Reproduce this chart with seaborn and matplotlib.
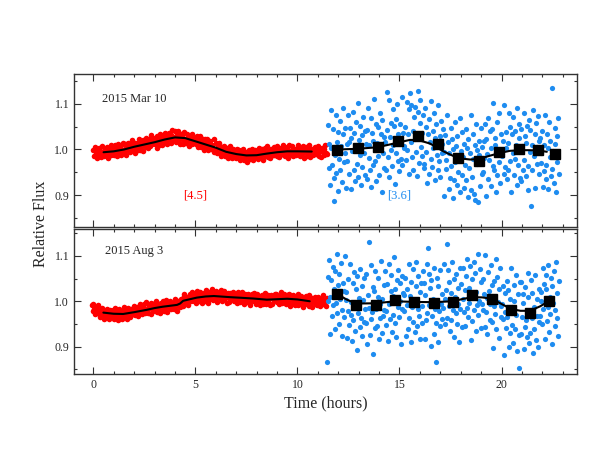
import numpy as np
import pandas as pd
import seaborn as sns
import matplotlib.pyplot as plt
from matplotlib.ticker import MultipleLocator, FormatStrFormatter

# all fluxes below are (relative flux - 1) in parts per thousand
# observations are at an even cadence, so only the time span is kept (hours)
mar_red_span = (0.0, 11.43)
mar_blue_span = (11.5, 22.8)
aug_red_span = (-0.08, 11.43)
aug_blue_span = (11.45, 22.8)

# 2015 Mar 10, [4.5]
mar_red = [
    -1, -14, 5, -9, -6, -19, 0, 4, -11, -4, -16, 8, -8, -3, -15, 1, -11, 5, -5, -18, 0, -8, 9, -13, -3, -7,
    3, -13, 9, -4, -15, 4, 13, -6, 2, -11, 9, -2, 14, -6, 2, 12, -11, 6, -2, 15, 2, -6, 11, 21, -1, 7,
    0, 15, -7, 9, 15, -1, 8, 22, -1, 14, 7, 21, -3, 13, 18, 6, 26, 11, 3, 22, 18, 7, 31, 11, 16, 26,
    24, 11, 20, 4, 29, 19, 9, 33, 25, 18, 10, 32, 24, 14, 37, 18, 30, 11, 27, 36, 23, 15, 31, 42, 20, 27,
    24, 40, 17, 32, 41, 20, 28, 13, 35, 23, 31, 13, 38, 19, 23, 15, 34, 25, 8, 30, 18, 26, 11, 33, 14, 22,
    26, 11, 21, 29, 5, 20, 12, 30, 5, 15, 22, 11, -1, 22, 17, 5, 24, -1, 11, 7, 18, 0, 10, 1, 22, -5,
    -1, 14, 2, -8, 7, 15, -7, 2, -14, 5, -2, -7, 8, -14, -1, 3, -18, -1, -9, 7, -13, -8, -19, 2, -11, -17,
    -4, -18, 1, -13, -11, -1, -24, -6, -17, -10, 2, -23, -10, -19, -5, -27, -13, -2, -15, -21, -7, 1, -23, -9, -17, -1,
    -16, -3, -11, -21, 3, -7, -17, -7, 1, -23, -3, -11, 3, -14, -7, 7, -17, -4, -8, -19, 0, -4, -11, 5, -13, 0,
    -1, -14, 7, -6, -17, 2, -4, 4, -9, 10, -12, -2, -15, 1, 6, -7, -18, 9, -4, -10, -1, 7, -14, -6, 2, -9,
    -12, 1, 9, -7, -4, -15, 4, -10, -2, 7, -18, -1, -6, 6, -14, 2, -9, 10, -17, -4, 1, -12, -2, -7, 6, -10,
    2, -9, 7, -14, -4, -1, -17, 4, -6, 1, -12, 9, -7, -10,
]

# 2015 Mar 10, [3.6]
mar_blue = [
    54, -40, 13, -77, 86, 4, -33, 46, -62, -114, -12, 76, -52, 17, -90, 39, -21, 63, -46, 8, -71, 33, 91, -27, -8, 48, -85, 11,
    -25, 76, -53, 16, 47, -87, 26, -3, 83, -45, 37, -70, 7, 61, -32, 103, -60, 21, -12, 52, -77, 31, -38, 72, -7, 41, -56, 11,
    43, -64, 90, -18, 10, -45, 70, -83, 36, 19, -35, 111, -26, 55, -70, 14, 50, -14, -55, 80, 1, 33, -93, 65, -8, 28, -40, 16,
    -45, 43, 126, -17, 108, -60, 28, 59, -2, -37, 89, 10, 51, -76, 68, -7, 99, -26, 33, -47, 56, 21, -20, 116, -35, 37, 3, 8,
    49, -24, 104, -1, 35, 89, -54, 125, 16, 98, -16, 40, -44, 72, 24, 94, -6, -59, 82, 129, -29, 59, 109, 6, -14, 37, 75, -40,
    -32, 90, -6, 50, -73, 33, 68, -53, 17, -21, 107, -38, 40, 4, 81, -66, 25, 56, -13, -44, 97, -26, 30, -61, 62, 13, -8, 46,
    -5, -101, 32, -24, -43, 75, 17, -87, -8, -62, 47, -37, 23, -106, 1, -68, 60, -28, 7, -78, 30, -49, -12, 70, -93, -3, -56, 38,
    -17, -84, 13, -35, 44, -66, 3, -105, 24, -40, -7, -88, 75, -60, 33, -21, -98, 9, -110, 55, -31, -2, -115, 19, -12, -81, 48, -53,
    6, -50, 18, -18, 55, -103, 23, -9, 70, -65, -24, 40, 4, -80, 45, -36, 101, -45, 9, 26, -93, 60, -55, 0, -28, 80, -74, 33,
    -10, -15, 19, -53, 98, -38, 3, 38, -65, 15, -44, 81, -25, 50, -94, 33, -8, 71, -55, -20, 41, 10, -78, 90, -35, 55, 25, -63,
    -70, 45, 7, -44, -24, 79, 29, -59, 15, 52, -89, -36, 64, -6, 42, -125, 10, -46, 87, -14, 34, -84, 59, 5, -31, 74, -54, 19,
    25, -29, -8, 41, -82, 9, -47, 76, -65, -34, 35, 4, -87, 60, -17, 19, -59, 135, -42, -4, -74, 47, 12, -94, 29, -27, 69, -53,
]

# 2015 Aug 3, [4.5]
aug_red = [
    -9, -21, -6, -17, -29, -16, -12, -26, -9, -25, -34, -19, -28, -15, -34, -24, -40, -22, -27, -17, -34, -25, -39, -20, -30, -33,
    -31, -20, -38, -26, -15, -34, -23, -42, -28, -18, -33, -25, -39, -21, -29, -13, -34, -26, -21, -38, -15, -27, -22, -34, -17, -28,
    -16, -27, -10, -31, -19, -22, -12, -33, -16, -6, -25, -18, -29, -13, -7, -20, -25, -2, -21, -14, -25, -9, -15, -28, -3, -16,
    -22, -11, -3, -18, 1, -24, -12, -6, -15, -25, -4, -9, -17, 0, -21, -6, -12, 3, -24, -7, -4, -14, 1, -17, -9, -12,
    -3, -18, 5, -11, -7, -21, 1, -4, -13, 5, -10, 0, -11, 11, 16, -5, 3, 10, -9, 10, 3, 16, 0, 10, 20, 4,
    1, 18, 10, -3, 22, 6, 14, 1, 20, 10, -3, 16, 8, 18, 1, 14, 24, 6, -3, 21, 14, 6, 17, 26, 9, 2,
    15, 4, 23, 10, -2, 17, 11, 21, 6, 25, 1, 13, 4, 23, 7, 15, -4, 18, 10, -1, 19, 4, 12, 7, 20, 1,
    4, 17, 9, -3, 21, 5, 13, -2, 10, 21, 1, 10, -6, 17, 5, 13, -2, 17, 6, -8, 11, 3, 16, 0, 7, 18,
    11, -5, 8, 17, -1, 4, -9, 12, 1, 14, -5, 8, 0, 18, -7, 6, 14, -2, 5, -9, 13, 8, -5, 11, 3, 17,
    3, 17, -2, 8, -7, 12, 6, 20, -4, 10, 0, 15, 3, -6, 13, 7, -2, 17, -10, 4, 8, -5, 14, 0, 5, -8,
    10, -3, 15, -9, 2, 7, -7, 11, -1, -13, 7, 4, -5, 12, -3, 2, -10, 14, -5, 0, 8, -13, 3, -2, 10, -6,
    5, -8, 10, -3, 0, -11, 6, 2, -6, 13, -5, 3, -10, 8,
]

# 2015 Aug 3, [3.6]
aug_blue = [
    -134, 54, 1, 91, -72, 10, 47, -32, 76, -9, 26, -62, 66, -3, 104, -25, 35, -49, 60, 6, 85, -19, -77, 41, 22, -34, 99, 3,
    20, -81, 48, -21, -52, 82, -31, -2, -88, 40, -42, 65, -12, -66, 27, -108, 55, -26, 7, -57, 72, -36, 33, -77, 2, -46, 51, -16,
    -47, 60, -94, 14, -14, 131, -74, 79, -40, -23, 31, -115, 22, -59, 66, -18, -54, 10, 51, -84, -5, -37, 89, -69, 4, -32, 36, -20,
    66, -22, -52, 38, -87, 81, -7, -38, 23, 58, -68, 11, -30, 97, -47, 28, -78, 47, -12, 68, -35, 0, 41, -95, 56, -16, 18, 13,
    -22, 51, -77, 28, -8, -62, 81, -37, 11, -90, 43, -13, 71, -45, 3, -67, 33, 86, -55, -18, 56, -32, -82, 21, 41, -10, -48, 67,
    40, -82, 14, -42, 81, -25, 117, 61, -9, 29, -99, 46, -32, 4, -73, 74, -17, -48, -134, 52, -89, 34, -22, 69, -54, -5, 16, -38,
    -14, 82, -51, 5, 24, 125, -36, 68, -11, 43, -66, 18, -42, 87, -20, 49, -79, 9, -26, 59, -49, 30, -7, -89, 74, -16, 37, -57,
    6, 73, -24, 24, -55, 55, -14, 94, -35, 29, -4, 77, -86, 49, -44, 10, 87, -20, 62, -66, 20, -9, 104, -30, 1, 70, -59, 42,
    -7, 49, -19, 17, -56, 102, -24, 8, -71, 64, 23, -41, -5, 79, -46, 35, -102, 44, -10, -27, 92, -61, 54, -1, 27, -81, 73, -34,
    -10, -5, -39, 33, -118, 18, -23, -58, 45, -35, 24, -101, 5, -70, 74, -53, -12, -91, 35, 0, -61, -30, 58, -110, 15, -75, -147, 43,
    43, -72, -34, 17, -3, -106, -56, 32, -42, -79, 62, 9, -91, -21, -69, 47, -37, 19, -114, -13, -61, 57, -86, -32, 4, -101, 27, -46,
    -33, 21, 0, -49, 74, -17, 39, -84, 57, 26, -43, -12, 79, -68, 9, -27, 51, -94, 34, -4, 66, -55, -20, 86, -37, 19, -77, 45,
]

# model curves (time in hours, ppt)
mar_red_fit_t = [0.5, 1.0, 1.5, 2.0, 2.5, 3.0, 3.5, 4.0, 4.5, 5.0, 5.5, 6.0, 6.5, 7.0, 7.5, 8.0, 8.5, 9.0, 9.5, 10.0, 10.7]
mar_red_fit = [-6, -4, 0, 6, 11, 16, 22, 26.5, 25, 18, 11, 4, -5, -10, -13, -12.5, -9, -6, -4, -4, -4.5]
mar_blue_fit_t = [11.97, 12.95, 13.93, 14.92, 15.5, 15.9, 16.5, 17.15, 17.87, 18.46, 18.88, 19.4, 19.89, 20.4, 20.87, 21.3, 21.8, 22.22]
mar_blue_fit = [0, 1.5, 5, 15, 21, 21, 13, -4, -19, -22, -21, -14, -8, -3, -1.5, -1.5, -2, -5]
aug_red_fit_t = [0.49, 1.0, 1.46, 2.0, 2.6, 3.0, 3.4, 4.1, 4.25, 4.4, 5.07, 5.5, 5.9, 6.7, 7.3, 7.84, 8.5, 9.0, 9.5, 10.0, 10.6]
aug_red_fit = [-25, -27.5, -28, -24, -19, -15, -12, -8, -5, 1, 8, 10.5, 11.5, 9, 7.5, 6, 3.5, 4.5, 5.5, 4, 0]
aug_blue_fit_t = [11.93, 12.4, 12.87, 13.84, 14.78, 15.73, 16.68, 17.62, 18.1, 18.56, 19.05, 19.53, 20.0, 20.47, 20.93, 21.4, 21.9, 22.34]
aug_blue_fit = [16.5, 4, -5, -4.5, 0, -1.5, -2, 0, 5, 9, 8.5, 5.5, -6, -17, -21, -21, -11, 1]

# binned [3.6] points
mar_bin_t = [11.95, 12.95, 13.93, 14.92, 15.90, 16.87, 17.87, 18.88, 19.89, 20.87, 21.79, 22.60]
mar_bin = [-2, 3, 5, 18, 29, 12, -18, -25, -5, 0, -1, -9]
aug_bin_t = [11.93, 12.87, 13.84, 14.78, 15.73, 16.68, 17.62, 18.56, 19.53, 20.47, 21.40, 22.34]
aug_bin = [16.5, -8, -9, 3.5, -1.5, -3.7, -0.9, 14.3, 4.3, -19.6, -26.1, 1.3]


def flux(ppt):
    return 1 + np.array(ppt) / 1000.0


def series(span, ppt):
    return pd.DataFrame({"t": np.linspace(span[0], span[1], len(ppt)), "f": flux(ppt)})


sns.set_theme(style="ticks")
plt.rcParams["font.family"] = ["Liberation Serif", "DejaVu Serif"]

RED = "#ff0000"
BLUE = "#1e8cf0"

fig = plt.figure(figsize=(6, 4.5), dpi=100)
ax1 = fig.add_axes([0.1233, 0.4956, 0.8384, 0.3393])
ax2 = fig.add_axes([0.1233, 0.1689, 0.8384, 0.3233])

panels = [
    (ax1, mar_red_span, mar_red, mar_blue_span, mar_blue, mar_red_fit_t, mar_red_fit,
     mar_blue_fit_t, mar_blue_fit, mar_bin_t, mar_bin, "2015 Mar 10", 0.41, (0.83, 1.165)),
    (ax2, aug_red_span, aug_red, aug_blue_span, aug_blue, aug_red_fit_t, aug_red_fit,
     aug_blue_fit_t, aug_blue_fit, aug_bin_t, aug_bin, "2015 Aug 3", 0.57, (0.84, 1.16)),
]

for (ax, rspan, rv, bspan, bv, rft, rf, bft, bf, bt, bb, date, dx, ylim) in panels:
    red = series(rspan, rv)
    blue = series(bspan, bv)
    sns.scatterplot(data=red, x="t", y="f", color=RED, s=16, linewidth=0, ax=ax, zorder=2)
    sns.scatterplot(data=blue, x="t", y="f", color=BLUE, s=14, linewidth=0, ax=ax, zorder=2)
    sns.lineplot(x=rft, y=flux(rf), color="black", lw=1.5, estimator=None, sort=False, ax=ax, zorder=3)
    sns.lineplot(x=bft, y=flux(bf), color="black", lw=1.5, estimator=None, sort=False, ax=ax, zorder=3)
    ax.plot(bt, flux(bb), "s", color="black", ms=6.5, zorder=4)

    ax.set_xlim(-0.95, 23.7)
    ax.set_ylim(*ylim)
    ax.xaxis.set_major_locator(MultipleLocator(5))
    ax.xaxis.set_minor_locator(MultipleLocator(1))
    ax.yaxis.set_major_locator(MultipleLocator(0.1))
    ax.yaxis.set_minor_locator(MultipleLocator(0.05))
    ax.yaxis.set_major_formatter(FormatStrFormatter("%.1f"))
    ax.tick_params(which="both", direction="in", top=True, right=True, labelsize=8.5, color="#333333")
    ax.tick_params(which="major", length=5, width=0.8)
    ax.tick_params(which="minor", length=2.5, width=0.8)
    for sp in ax.spines.values():
        sp.set_linewidth(1.0)
        sp.set_color("#333333")
    ax.set_xlabel("")
    ax.set_ylabel("")
    ax.text(dx, 1.11, date, fontsize=9, va="center", ha="left")

ax1.tick_params(labelbottom=False)
ax1.text(5.0, 0.899, "[4.5]", color=RED, fontsize=9, ha="center", va="center")
ax1.text(15.0, 0.899, "[3.6]", color=BLUE, fontsize=9, ha="center", va="center")

ax2.set_xlabel("Time (hours)", fontsize=11.5, labelpad=3)
fig.text(0.068, 0.502, "Relative Flux", rotation=90, fontsize=11.5, ha="center", va="center")

fig.savefig("out.png", dpi=100)
